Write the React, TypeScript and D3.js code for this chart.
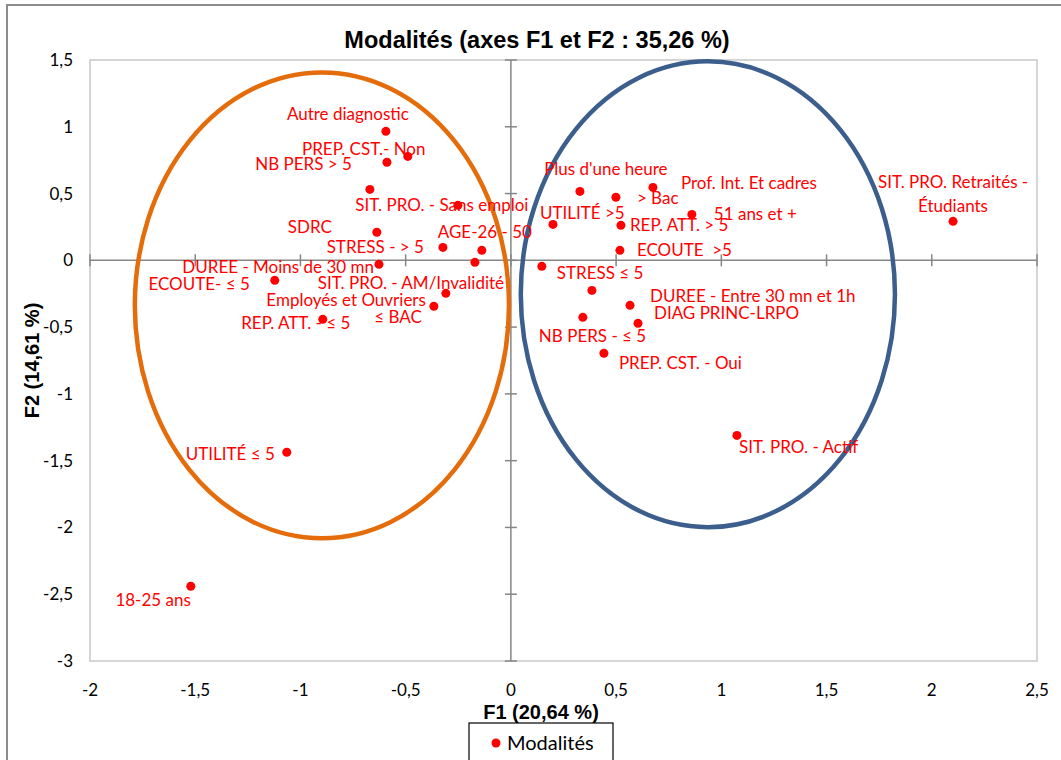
// @ts-nocheck
import { useEffect, useRef } from 'react';
import * as d3 from 'd3';

// modalités: coordonnées sur F1 / F2
const labels = [
  'Autre diagnostic', 'PREP. CST.- Non', 'NB PERS > 5', '', 'SIT. PRO. - Sans emploi',
  'SDRC', 'STRESS - > 5', 'AGE-26 - 50', 'SIT. PRO. - AM/Invalidité', 'DUREE - Moins de 30 mn',
  'ECOUTE- ≤ 5', 'Employés et Ouvriers', '≤ BAC', 'REP. ATT. - ≤ 5', 'UTILITÉ ≤ 5', '18-25 ans',
  "Plus d'une heure", '> Bac', 'Prof. Int. Et cadres', '51 ans et +', 'UTILITÉ >5',
  'REP. ATT. > 5', 'ECOUTE  >5', 'STRESS ≤ 5', '', 'DUREE - Entre 30 mn et 1h',
  'DIAG PRINC-LRPO', 'NB PERS - ≤ 5', 'PREP. CST. - Oui', 'SIT. PRO. - Actif',
  'SIT. PRO. Retraités -\nÉtudiants'
];
const f1 = [
  -0.594, -0.490, -0.589, -0.670, -0.252, -0.637, -0.323, -0.138, -0.171, -0.627,
  -1.122, -0.309, -0.366, -0.894, -1.065, -1.521,
  0.328, 0.499, 0.675, 0.860, 0.200, 0.523, 0.518, 0.147, 0.385, 0.566,
  0.604, 0.342, 0.442, 1.074, 2.101
];
const f2 = [
  0.966, 0.778, 0.734, 0.531, 0.412, 0.210, 0.097, 0.075, -0.015, -0.030,
  -0.150, -0.247, -0.344, -0.442, -1.437, -2.440,
  0.516, 0.472, 0.546, 0.344, 0.269, 0.262, 0.075, -0.045, -0.225, -0.337,
  -0.472, -0.427, -0.696, -1.311, 0.292
];

// placement des étiquettes (ancre, décalage en px)
const labelPos = [
  ['middle', -38, -17], ['middle', -44, -7], ['end', -35, 2], ['start', 0, 0], ['middle', -16, 0],
  ['end', -45, -5], ['end', -19, 0], ['middle', 3, -18], ['middle', -64, 21], ['end', -5, 3],
  ['end', -25, 4], ['end', -20, 7], ['end', -12, 11], ['middle', -27, 4], ['end', -12, 2], ['end', 0, 14],
  ['middle', 26, -22], ['start', 21, 1], ['start', 28, -4], ['start', 22, 0], ['start', -13, -11],
  ['start', 9, 0], ['start', 17, 0], ['start', 15, 7], ['start', 0, 0], ['start', 20, -9],
  ['start', 16, -10], ['start', -44, 19], ['start', 15, 10], ['start', 2, 12], ['middle', 0, -39]
];

const xTicks = [-2, -1.5, -1, -0.5, 0, 0.5, 1, 1.5, 2, 2.5];
const yTicks = [1.5, 1, 0.5, 0, -0.5, -1, -1.5, -2, -2.5, -3];

// groupes entourés: [centre F1, centre F2, rayon F1, rayon F2, couleur]
const groups = [
  [-0.898, -0.337, 0.889, 1.744, '#E46C0A'],
  [0.936, -0.254, 0.889, 1.744, '#3B5E8C']
];

const fmt = v => String(v).replace('.', ',');

const App = () => {
  const svgRef = useRef();

  useEffect(() => {
    const svg = d3.select(svgRef.current);
    svg.selectAll('*').remove();

    const W = 1061, H = 760;
    const left = 90, right = 1037, top = 60, bottom = 661;
    const labelFont = 'Lato, "Open Sans", sans-serif';
    const boldFont = '"Liberation Sans", Arial, sans-serif';

    const x = d3.scaleLinear().domain([-2, 2.5]).range([left, right]);
    const y = d3.scaleLinear().domain([-3, 1.5]).range([bottom, top]);

    svg.attr('width', W).attr('height', H);

    svg.append('rect').attr('width', W).attr('height', H).attr('fill', '#fff');

    // cadre extérieur
    svg.append('path')
      .attr('d', `M7,${H} V5 H${W}`)
      .attr('fill', 'none')
      .attr('stroke', '#8c8c8c')
      .attr('stroke-width', 2);

    // zone de tracé
    svg.append('rect')
      .attr('x', left).attr('y', top)
      .attr('width', right - left).attr('height', bottom - top)
      .attr('fill', 'none')
      .attr('stroke', '#c8c8c8')
      .attr('stroke-width', 1.5);

    // axes passant par zéro
    svg.append('line')
      .attr('x1', x(0)).attr('x2', x(0)).attr('y1', top).attr('y2', bottom)
      .attr('stroke', '#868686').attr('stroke-width', 1.5);
    svg.append('line')
      .attr('x1', left).attr('x2', right).attr('y1', y(0)).attr('y2', y(0))
      .attr('stroke', '#868686').attr('stroke-width', 1.5);

    svg.append('g').selectAll('line')
      .data(yTicks).enter().append('line')
      .attr('x1', x(0) - 6).attr('x2', x(0) + 6)
      .attr('y1', d => y(d)).attr('y2', d => y(d))
      .attr('stroke', '#868686').attr('stroke-width', 1.5);
    svg.append('g').selectAll('line')
      .data(xTicks).enter().append('line')
      .attr('x1', d => x(d)).attr('x2', d => x(d))
      .attr('y1', y(0) - 6).attr('y2', y(0) + 6)
      .attr('stroke', '#868686').attr('stroke-width', 1.5);

    // graduations
    svg.append('g').selectAll('text')
      .data(yTicks).enter().append('text')
      .attr('x', left - 17).attr('y', d => y(d))
      .attr('dy', '0.35em')
      .attr('text-anchor', 'end')
      .style('font-family', labelFont).style('font-size', '17px')
      .text(fmt);
    svg.append('g').selectAll('text')
      .data(xTicks).enter().append('text')
      .attr('x', d => x(d)).attr('y', bottom + 29)
      .attr('dy', '0.35em')
      .attr('text-anchor', 'middle')
      .style('font-family', labelFont).style('font-size', '17px')
      .text(fmt);

    // ellipses
    svg.append('g').selectAll('ellipse')
      .data(groups).enter().append('ellipse')
      .attr('cx', d => x(d[0])).attr('cy', d => y(d[1]))
      .attr('rx', d => x(d[2]) - x(0)).attr('ry', d => y(0) - y(d[3]))
      .attr('fill', 'none')
      .attr('stroke', d => d[4])
      .attr('stroke-width', 4.5);

    // points
    const pts = labels.map((l, i) => ({ label: l, f1: f1[i], f2: f2[i], pos: labelPos[i] }));

    svg.append('g').selectAll('circle')
      .data(pts).enter().append('circle')
      .attr('cx', d => x(d.f1)).attr('cy', d => y(d.f2))
      .attr('r', 4.5)
      .attr('fill', '#ff0000');

    const lbl = svg.append('g').selectAll('text')
      .data(pts.filter(d => d.label)).enter().append('text')
      .attr('x', d => x(d.f1) + d.pos[1])
      .attr('y', d => y(d.f2) + d.pos[2])
      .attr('text-anchor', d => d.pos[0])
      .attr('fill', '#ff0000')
      .style('font-family', labelFont).style('font-size', '17px')
      .style('white-space', 'pre');
    lbl.each(function (d) {
      const t = d3.select(this);
      d.label.split('\n').forEach((line, k) => {
        t.append('tspan')
          .attr('x', x(d.f1) + d.pos[1])
          .attr('dy', k === 0 ? '0.35em' : '1.4em')
          .text(line);
      });
    });

    // titres
    svg.append('text')
      .attr('x', 537).attr('y', 48)
      .attr('text-anchor', 'middle')
      .style('font-family', boldFont).style('font-weight', 'bold').style('font-size', '23.5px')
      .text('Modalités (axes F1 et F2 : 35,26 %)');

    svg.append('text')
      .attr('x', 541).attr('y', 719)
      .attr('text-anchor', 'middle')
      .style('font-family', boldFont).style('font-weight', 'bold').style('font-size', '20px')
      .text('F1 (20,64 %)');

    svg.append('text')
      .attr('transform', `translate(39,${(top + bottom) / 2}) rotate(-90)`)
      .attr('text-anchor', 'middle')
      .style('font-family', boldFont).style('font-weight', 'bold').style('font-size', '20px')
      .text('F2 (14,61 %)');

    // légende
    const leg = svg.append('g');
    leg.append('rect')
      .attr('x', 469).attr('y', 723).attr('width', 144).attr('height', 50)
      .attr('fill', '#fff').attr('stroke', '#000').attr('stroke-width', 1.2);
    leg.append('circle').attr('cx', 496).attr('cy', 743).attr('r', 4.5).attr('fill', '#ff0000');
    leg.append('text')
      .attr('x', 507).attr('y', 743).attr('dy', '0.35em')
      .style('font-family', labelFont).style('font-size', '20px')
      .text('Modalités');
  }, []);

  return <svg ref={svgRef} style={{ position: 'absolute', left: 0, top: 0 }}></svg>;
};

export default App;
